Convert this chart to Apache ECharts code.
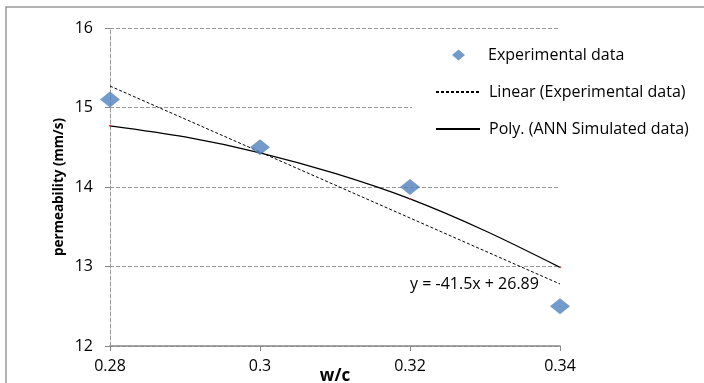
<!DOCTYPE html>
<html><head><meta charset="utf-8">
<script src="https://cdn.jsdelivr.net/npm/echarts@6/dist/echarts.min.js"></script>
<style>html,body{margin:0;padding:0;background:#fff}#c{width:704px;height:383px}</style>
</head><body><div id="c"></div>
<script>
var wc = [0.28, 0.30, 0.32, 0.34];
var experimental = [15.1, 14.5, 14.0, 12.5];
var linearFitX = [0.28, 0.34];
var linearFitY = [15.27, 12.78];
var polyX = [0.28, 0.29, 0.30, 0.31, 0.32, 0.33, 0.34];
var polyY = [14.77, 14.63, 14.43, 14.17, 13.85, 13.45, 12.99];
var xTickLabels = ['0.28', '0.3', '0.32', '0.34'];
var yTicks = [12, 13, 14, 15, 16];
var equationText = 'y = -41.5x + 26.89';

var FONT = 'Open Sans';
function zip(xs, ys){ return xs.map(function(x,i){ return [x, ys[i]]; }); }

var chart = echarts.init(document.getElementById('c'), null, {renderer:'canvas'});
chart.setOption({
  animation: false,
  backgroundColor: '#fff',
  textStyle: {fontFamily: FONT},
  grid: {left: 110, right: 144, top: 28, bottom: 37, outerBoundsMode: 'none', containLabel: false},
  xAxis: {
    type: 'value', min: 0.28, max: 0.34, interval: 0.02,
    name: 'w/c', nameLocation: 'middle', nameGap: 22, nameMoveOverlap: false,
    nameTextStyle: {fontFamily: FONT, fontSize: 17, fontWeight: 'bold', color: '#000', verticalAlign: 'top'},
    axisLine: {show: true, lineStyle: {color: '#868686', width: 1.5}},
    axisTick: {show: true, length: 5, lineStyle: {color: '#868686'}},
    splitLine: {show: false},
    axisLabel: {margin: 12, fontFamily: FONT, fontSize: 16, color: '#000',
      formatter: function(v){ var i = Math.round((v - 0.28) / 0.02); return xTickLabels[i]; }}
  },
  yAxis: {
    type: 'value', min: 12, max: 16, interval: 1,
    name: 'permeability (mm/s)', nameLocation: 'middle', nameGap: 44, nameMoveOverlap: false,
    nameTextStyle: {fontFamily: FONT, fontSize: 13.5, fontWeight: 'bold', color: '#000'},
    axisLine: {show: true, lineStyle: {color: '#999', width: 1, type: [4, 2]}},
    axisTick: {show: true, length: 5, lineStyle: {color: '#868686'}},
    splitLine: {show: true, lineStyle: {color: '#999', width: 1, type: [4, 2]}},
    axisLabel: {margin: 17, fontFamily: FONT, fontSize: 16, color: '#000',
      formatter: function(v){ return yTicks.indexOf(v) >= 0 ? String(v) : ''; }}
  },
  legend: [{
    data: [{name: 'Experimental data', icon: 'diamond'}],
    left: 452, top: 47, orient: 'vertical', z: 200, padding: 0,
    itemWidth: 13, itemHeight: 11,
    textStyle: {fontFamily: FONT, fontSize: 16, lineHeight: 16, color: '#000', padding: [0,0,0,18]}
  }, {
    data: ['Linear (Experimental data)', 'Poly. (ANN Simulated data)'],
    left: 435, top: 84, orient: 'vertical', z: 200, padding: 0,
    itemWidth: 44, itemHeight: 14, itemGap: 21,
    itemStyle: {opacity: 0},
    textStyle: {fontFamily: FONT, fontSize: 16, lineHeight: 16, color: '#000', padding: [0,0,0,4]}
  }],
  graphic: [
    {type: 'rect', z: 100, shape: {x: 412, y: 36, width: 290, height: 114}, style: {fill: '#fff'}},
    {type: 'rect', z: 100, shape: {x: 6, y: 7, width: 720, height: 400}, style: {fill: 'none', stroke: '#999', lineWidth: 1.5}},
    {type: 'text', z: 100, x: 410, y: 284, style: {text: equationText, font: '16px "Open Sans"', fill: '#000', verticalAlign: 'middle'}}
  ],
  series: [
    {
      name: 'Linear (Experimental data)', type: 'line', data: zip(linearFitX, linearFitY),
      symbol: 'none', lineStyle: {color: '#000', width: 1, type: [3, 2]}, itemStyle: {color: '#000'}, z: 3
    },
    {
      name: 'Poly. (ANN Simulated data)', type: 'line', data: zip(polyX, polyY), smooth: 0.3,
      symbol: 'circle', showSymbol: true, showAllSymbol: true,
      symbolSize: function(val){ return wc.indexOf(val[0]) >= 0 ? 2 : 0; },
      itemStyle: {color: '#e03030'}, lineStyle: {color: '#000', width: 1.3}, z: 3
    },
    {
      name: 'Experimental data', type: 'scatter', data: zip(wc, experimental),
      symbol: 'diamond', symbolSize: [20, 16], itemStyle: {color: '#4F81BD'}, z: 4
    }
  ]
});
</script></body></html>
